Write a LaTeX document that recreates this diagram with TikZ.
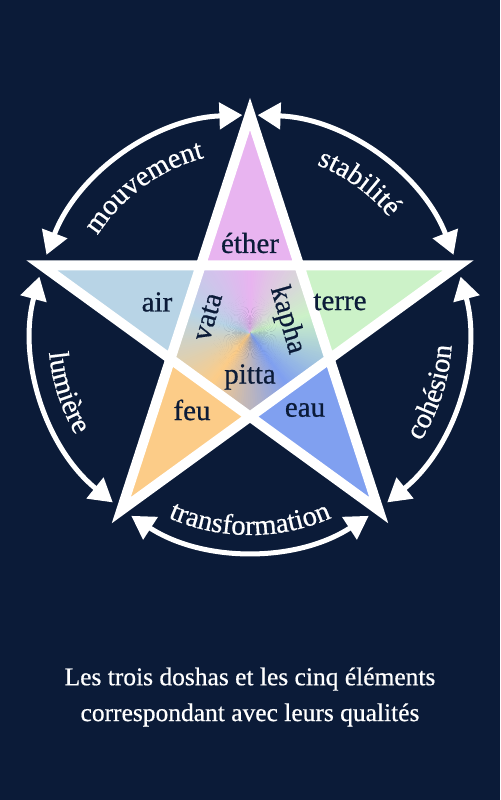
\documentclass[tikz,border=0pt]{standalone}
\usepackage{fontspec}
\setmainfont{Liberation Serif}[FakeBold=0.6]
\usepackage{xcolor}
\usetikzlibrary{arrows.meta, decorations.text}

\definecolor{night}{HTML}{0B1B38}
\definecolor{ether}{HTML}{E8B4F0}
\definecolor{air}{HTML}{B8D4E6}
\definecolor{terre}{HTML}{CCF2C8}
\definecolor{eau}{HTML}{80A0F0}
\definecolor{feu}{HTML}{FCCC88}
\newcommand{\qfont}{\fontsize{16.3}{16.3}\selectfont}

\begin{document}
\begin{tikzpicture}[x=0.02cm, y=0.02cm, every node/.style={font=\fontsize{16.5}{19}\selectfont}]
    \tikzstyle{element} = [text=night, inner sep=0pt]
    \tikzstyle{dosha} = [text=night, inner sep=0pt]
    \tikzstyle{branch} = [draw=white, line width=0.2cm, line join=miter]
    \tikzstyle{quality} = [draw=white, line width=0.1cm, {Triangle[length=0.46cm, width=0.52cm]}-{Triangle[length=0.46cm, width=0.52cm]}]
    \tikzstyle{qlabel} = [decorate, decoration={text along path, text align=center, text color=white}]
    \tikzstyle{caption} = [text=white, align=center, font=\fontsize{14.5}{20.4}\selectfont]

    \useasboundingbox (-250,-467) rectangle (250,333);
    \fill[night] (-250,-467) rectangle (250,333);

    \coordinate (top) at (90:219);
    \coordinate (right) at (18:219);
    \coordinate (botright) at (-54:219);
    \coordinate (botleft) at (-126:219);
    \coordinate (left) at (162:219);
    \coordinate (ne) at (54:83.7);
    \coordinate (e) at (-18:83.7);
    \coordinate (s) at (-90:83.7);
    \coordinate (w) at (198:83.7);
    \coordinate (nw) at (126:83.7);

    \fill[ether] (top) -- (nw) -- (ne) -- cycle;
    \fill[terre] (right) -- (ne) -- (e) -- cycle;
    \fill[eau] (botright) -- (e) -- (s) -- cycle;
    \fill[feu] (botleft) -- (s) -- (w) -- cycle;
    \fill[air] (left) -- (w) -- (nw) -- cycle;

    \begin{scope}
        \clip (nw) -- (ne) -- (e) -- (s) -- (w) -- cycle;
        \foreach \ca/\cb/\aa in {ether/terre/90, terre/eau/18, eau/feu/-54, feu/air/-126, air/ether/-198}
            \foreach \k in {0,...,35} {
                \pgfmathtruncatemacro\p{100*\k/36}
                \fill[\cb!\p!\ca] (0,0) -- ({\aa-2*\k+0.4}:100) -- ({\aa-2*\k-2.4}:100) -- cycle;
            }
    \end{scope}

    \draw[branch] (top) -- (botleft) -- (right) -- (left) -- (botright) -- cycle;

    \node[element] (etherlbl) at (0,90) {éther};
    \node[element] (airlbl) at (-93,31) {air};
    \node[element] (terrelbl) at (90,31) {terre};
    \node[element] (feulbl) at (-58,-77) {feu};
    \node[element] (eaulbl) at (55,-77) {eau};
    \node[dosha, rotate=74] (vata) at (-42,16) {vata};
    \node[dosha, rotate=-74] (kapha) at (37,13) {kapha};
    \node[dosha] (pitta) at (0,-44) {pitta};

    \coordinate (mouv) at (92:218);
    \coordinate (stab) at (88:218);
    \coordinate (cohe) at (-51:218);
    \coordinate (trans) at (-123:218);
    \coordinate (lumi) at (165:218);

    \draw[quality] (mouv) arc[start angle=92, end angle=159, radius=218];
    \draw[quality] (stab) arc[start angle=88, end angle=21, radius=218];
    \draw[quality] (cohe) arc[start angle=-51, end angle=15, radius=218];
    \draw[quality] (trans) arc[start angle=-123, end angle=-57, radius=218];
    \draw[quality] (lumi) arc[start angle=165, end angle=231, radius=218];

    \path[qlabel, decoration={text={|\qfont|mouvement}}] (160:181) arc[start angle=160, end angle=92, radius=181];
    \path[qlabel, decoration={text={|\qfont|stabilité}}] (88:181) arc[start angle=88, end angle=20, radius=181];
    \path[qlabel, decoration={text={|\qfont|cohésion}}] (-52:202) arc[start angle=-52, end angle=16, radius=202];
    \path[qlabel, decoration={text={|\qfont|transformation}}] (-124:202) arc[start angle=-124, end angle=-56, radius=202];
    \path[qlabel, decoration={text={|\qfont|lumière}}] (164:202) arc[start angle=164, end angle=232, radius=202];

    \node[caption] (title) at (0,-364) {Les trois doshas et les cinq éléments\\correspondant avec leurs qualités};
\end{tikzpicture}
\end{document}
